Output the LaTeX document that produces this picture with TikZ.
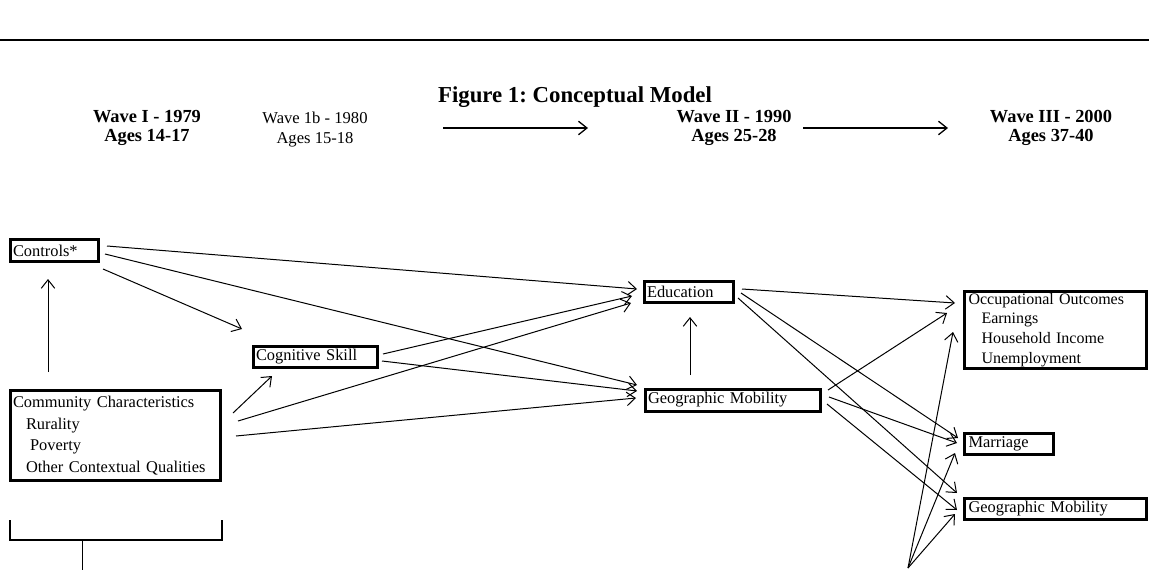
\documentclass[tikz,border=0pt]{standalone}
\usepackage{fontspec}
\setmainfont{Liberation Serif}
\usetikzlibrary{arrows.meta}
\frenchspacing
\begin{document}
\begin{tikzpicture}[x=1pt,y=-1pt,
  box/.style={draw, line width=3pt, inner xsep=2.5pt, inner ysep=0pt, align=left,
    font=\fontsize{16.4}{21.5}\selectfont},
  boxr/.style={box, inner xsep=4pt},
  conn/.style={line width=1pt, -{Straight Barb[length=8.5pt,width=13.5pt]}},
  tline/.style={line width=1.3pt, -{Straight Barb[length=8.5pt,width=13.5pt]}},
  wave/.style={align=center, font=\fontsize{18.4}{18.5}\selectfont\bfseries},
  wavereg/.style={align=center, font=\fontsize{16.6}{19.5}\selectfont},
]
\useasboundingbox (0,0) rectangle (1149,570);

% header rule
\draw[line width=1.3pt] (0,40) -- (1149,40);

% title and waves
\node[font=\fontsize{22.8}{26}\selectfont\bfseries] (title) at (575,97) {Figure 1: Conceptual Model};
\node[wave] (w1) at (147,128) {Wave I - 1979\\Ages 14-17};
\node[wavereg] (w1b) at (315,129.5) {Wave 1b - 1980\\Ages 15-18};
\node[wave] (w2) at (734,128) {Wave II - 1990\\Ages 25-28};
\node[wave] (w3) at (1051,128) {Wave III - 2000\\Ages 37-40};
\draw[tline] ([shift={(128,-1.5)}]w1b.center) -- ([shift={(-146,0)}]w2.center);
\draw[tline] ([shift={(69,0)}]w2.center) -- ([shift={(-103,0)}]w3.center);

% boxes
\node[box, minimum width=88pt, minimum height=22pt, text width=83pt] (controls) at (54.5,250.5) {Controls*};
\node[box, minimum width=210pt, minimum height=90pt, text width=205pt] (community) at (115.5,435.5)
  {Community Characteristics\\\hspace*{13pt}Rurality\\\hspace*{17pt}Poverty\\\hspace*{13pt}Other Contextual Qualities};
\node[box, minimum width=124pt, minimum height=21pt, text width=119pt] (cognitive) at (315.5,357) {Cognitive Skill};
\node[box, minimum width=89pt, minimum height=21pt, text width=84pt] (education) at (689,292) {Education};
\node[box, minimum width=175pt, minimum height=22pt, text width=170pt] (geomid) at (733,400) {Geographic Mobility};
\node[boxr, minimum width=182pt, minimum height=75pt, text width=174pt, inner ysep=1.6pt,
  font=\fontsize{16}{19.8}\selectfont] (occup) at (1055.5,330)
  {Occupational Outcomes\\\hspace*{13pt}Earnings\\\hspace*{13pt}Household Income\\\hspace*{13pt}Unemployment};
\node[boxr, minimum width=89pt, minimum height=21pt, text width=81pt] (marriage) at (1009,443.5) {Marriage};
\node[boxr, minimum width=182pt, minimum height=21pt, text width=174pt] (georight) at (1055.5,508.5) {Geographic Mobility};

% bracket
\draw[line width=1.8pt] (10,520) -- (10,540) -- (222,540) -- (222,520);
\draw[line width=1pt] (82,541) -- (82,570);
\coordinate (bot) at (908,568);

% connectors
\draw[conn] ([shift={(52.5,-4.5)}]controls.center) -- ([shift={(-52,-3)}]education.center);
\draw[conn] ([shift={(50.5,3.5)}]controls.center) -- ([shift={(-96,-15)}]geomid.center);
\draw[conn] ([shift={(48.5,18.5)}]controls.center) -- ([shift={(-73.5,-28)}]cognitive.center);
\draw[conn] ([shift={(117.5,-22.5)}]community.center) -- ([shift={(-43.5,19)}]cognitive.center);
\draw[conn] ([shift={(122.5,-14.5)}]community.center) -- ([shift={(-58,11)}]education.center);
\draw[conn] ([shift={(120.5,0.5)}]community.center) -- ([shift={(-97,-2)}]geomid.center);
\draw[conn] ([shift={(67.5,-3)}]cognitive.center) -- ([shift={(-57,4)}]education.center);
\draw[conn] ([shift={(66.5,4)}]cognitive.center) -- ([shift={(-96,-9)}]geomid.center);
\draw[conn] ([shift={(-43,-25)}]geomid.center) -- ([shift={(1,25)}]education.center);
\draw[conn] ([shift={(53,-3)}]education.center) -- ([shift={(-100.5,-27)}]occup.center);
\draw[conn] ([shift={(52,1)}]education.center) -- ([shift={(-51,-5.5)}]marriage.center);
\draw[conn] ([shift={(49,6)}]education.center) -- ([shift={(-98.5,-15.5)}]georight.center);
\draw[conn] ([shift={(95,-10)}]geomid.center) -- ([shift={(-108.5,-17)}]occup.center);
\draw[conn] ([shift={(96,-3)}]geomid.center) -- ([shift={(-52,-0.5)}]marriage.center);
\draw[conn] ([shift={(94,4)}]geomid.center) -- ([shift={(-98.5,1.5)}]georight.center);
\draw[conn] (bot) -- ([shift={(-102.5,2)}]occup.center);
\draw[conn] (bot) -- ([shift={(-54,9.5)}]marriage.center);
\draw[conn] (bot) -- ([shift={(-100.5,5.5)}]georight.center);
\draw[conn] ([shift={(-67.5,-63.5)}]community.center) -- ([shift={(-6.5,28.5)}]controls.center);
\end{tikzpicture}
\end{document}
